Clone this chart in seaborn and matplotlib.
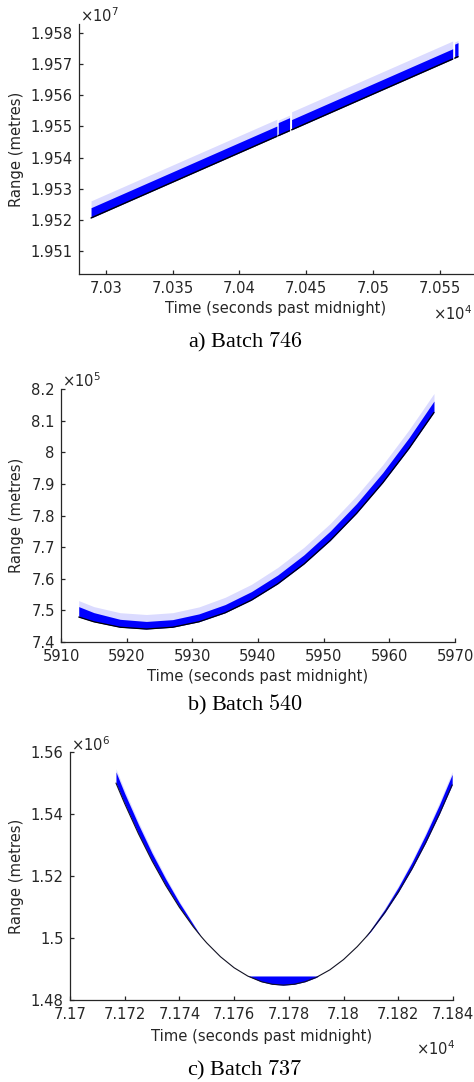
import numpy as np
import matplotlib
matplotlib.use("Agg")
import matplotlib.pyplot as plt
import seaborn as sns

# ---------------- data ----------------
# Panel a) Batch 746 : contiguous segments of the range track (gaps in between)
a_seg_t0 = [70289.0, 70429.0, 70439.0, 70561.0]          # s
a_seg_t1 = [70428.0, 70437.5, 70559.5, 70563.5]          # s
a_seg_r0 = [19520600, 19547020, 19548900, 19571930]      # m (lower edge)
a_seg_r1 = [19546830, 19548620, 19571640, 19572400]      # m (lower edge)
a_dense = [3300, 4200, 3300, 4500]                       # m, dense point band above the edge
a_fringe = [5500, 5000, 5800, 5200]                      # m, sparse outliers reach
a_xticks = [70300, 70350, 70400, 70450, 70500, 70550]
a_yticks = [19510000, 19520000, 19530000, 19540000, 19550000, 19560000, 19570000, 19580000]

# Panel b) Batch 540
b_time = [5912.7, 5915, 5919, 5923, 5927, 5931, 5935, 5939, 5943, 5947, 5951, 5955,
          5959, 5963, 5966.8]
b_range = [747890, 746390, 744670, 744100, 744670, 746390, 749240, 753240, 758380,
           764660, 772090, 780660, 790370, 801220, 812590]
b_dense = [3300, 2900, 2500, 2400, 2400, 2500, 2600, 2700, 2800, 2900, 3000, 3100,
           3200, 3400, 3600]
b_fringe = [5200, 4800, 4600, 4600, 4600, 4700, 4900, 5000, 5200, 5300, 5400, 5600,
            5700, 5900, 6000]
b_xticks = [5910, 5920, 5930, 5940, 5950, 5960, 5970]
b_yticks = [740000, 750000, 760000, 770000, 780000, 790000, 800000, 810000, 820000]

# Panel c) Batch 737
c_time = [71716.8, 71720, 71725, 71730, 71735, 71740, 71745, 71748, 71750, 71755,
          71760, 71765, 71770, 71774, 71778, 71782, 71786, 71790, 71795, 71800,
          71805, 71808, 71810, 71815, 71820, 71825, 71830, 71835, 71839.7]
c_range = [1549980, 1543330, 1533660, 1524860, 1516930, 1509880, 1503700, 1500410,
           1498390, 1493960, 1490390, 1487710, 1485890, 1485070, 1484800, 1485080,
           1485910, 1487280, 1489740, 1493060, 1497220, 1500120, 1502220, 1508080,
           1514770, 1522310, 1530700, 1539930, 1549380]
c_dense = [3600, 3300, 3000, 2500, 2100, 1500, 800, 0, 0, 0, 0, 0, 0, 0, 0, 0, 0, 0,
           0, 0, 0, 0, 600, 1100, 1600, 2100, 2600, 3000, 3400]
c_fringe = [4600, 4300, 3900, 3300, 2800, 2000, 1100, 0, 0, 0, 0, 0, 0, 0, 0, 0, 0,
            0, 0, 0, 0, 0, 800, 1500, 2100, 2700, 3300, 3800, 4300]
c_floor = 1487750                                         # m, flat cut of the point cloud
c_xticks = [71700, 71720, 71740, 71760, 71780, 71800, 71820, 71840]
c_yticks = [1480000, 1500000, 1520000, 1540000, 1560000]

captions = ["a) Batch $746$", "b) Batch $540$", "c) Batch $737$"]

# ---------------- style ----------------
sns.set_style("ticks")
plt.rcParams["font.family"] = ["DejaVu Sans"]
TXT = "#262626"
BLUE = "#0000ff"
FS = 10.6

W, H = 474, 1082
fig = plt.figure(figsize=(W / 100, H / 100), dpi=100)


def box(l, r, t, b):
    return [l / W, 1 - b / H, (r - l) / W, (b - t) / H]


def style_axis(ax, xticks, xlab, yticks, ylab, xlim, ylim):
    ax.set_xlim(*xlim)
    ax.set_ylim(*ylim)
    ax.set_xticks(xticks)
    ax.set_xticklabels(xlab)
    ax.set_yticks(yticks)
    ax.set_yticklabels(ylab)
    for s in ["top", "right"]:
        ax.spines[s].set_visible(False)
    for s in ["left", "bottom"]:
        ax.spines[s].set_color(TXT)
        ax.spines[s].set_linewidth(0.9)
    ax.tick_params(direction="in", length=3.2, width=0.9, colors=TXT, labelsize=FS)
    ax.tick_params(axis="x", pad=5.0)
    ax.tick_params(axis="y", pad=4.5)
    ax.set_xlabel("")
    ax.set_ylabel("")
    ax.grid(False)


def fig_text(x, y, s, **kw):
    fig.text(x / W, 1 - y / H, s, **kw)


def band(ax, t, r, dense, fringe, lc="black", lw=0.8):
    t = np.asarray(t, dtype=float)
    r = np.asarray(r, dtype=float)
    d = np.asarray(dense, dtype=float)
    f = np.asarray(fringe, dtype=float)
    ax.fill_between(t, r + d * 0.9, r + f, color=BLUE, alpha=0.14, lw=0)
    ax.fill_between(t, r, r + d, color=BLUE, lw=0)
    sns.lineplot(x=t, y=r, ax=ax, color=lc, lw=lw, sort=False, estimator=None)


# ---------------- panel a ----------------
axa = fig.add_axes(box(79, 473.4, 24, 274))
for t0, t1, r0, r1, d, f in zip(a_seg_t0, a_seg_t1, a_seg_r0, a_seg_r1, a_dense, a_fringe):
    band(axa, [t0, t1], [r0, r1], [d, d], [f, f], lw=1.0)
style_axis(axa, a_xticks, [f"{v / 1e4:g}" for v in a_xticks],
           a_yticks, [f"{v / 1e7:g}" for v in a_yticks],
           (70280, 70575), (19502610, 19582890))

# ---------------- panel b ----------------
axb = fig.add_axes(box(61, 455, 389, 642))
band(axb, b_time, b_range, b_dense, b_fringe, lw=0.9)
style_axis(axb, b_xticks, [f"{v:g}" for v in b_xticks],
           b_yticks, [f"{v / 1e5:g}" for v in b_yticks],
           (5910, 5970), (740000, 820000))

# ---------------- panel c ----------------
axc = fig.add_axes(box(70, 453, 752, 1000))
ct = np.array(c_time)
cr = np.array(c_range, dtype=float)
axc.fill_between(ct, cr, c_floor, where=cr < c_floor, interpolate=True, color=BLUE, lw=0)
band(axc, c_time, c_range, c_dense, c_fringe, lc="#111122", lw=0.8)
style_axis(axc, c_xticks, [f"{v / 1e4:g}" for v in c_xticks],
           c_yticks, [f"{v / 1e6:g}" for v in c_yticks],
           (71700, 71840), (1480000, 1560000))

# ---------------- texts ----------------
lab_kw = dict(color=TXT, fontsize=FS)
fig_text(17, 149, "Range (metres)", rotation=90, ha="center", va="center", **lab_kw)
fig_text(17, 515, "Range (metres)", rotation=90, ha="center", va="center", **lab_kw)
fig_text(17, 876, "Range (metres)", rotation=90, ha="center", va="center", **lab_kw)

fig_text(276, 309, "Time (seconds past midnight)", ha="center", va="center", **lab_kw)
fig_text(258, 677, "Time (seconds past midnight)", ha="center", va="center", **lab_kw)
fig_text(262, 1037, "Time (seconds past midnight)", ha="center", va="center", **lab_kw)

mult_kw = dict(color=TXT, fontsize=FS, math_fontfamily="dejavusans")
fig_text(80, 16, r"$\times10^{7}$", ha="left", va="center", **mult_kw)
fig_text(472, 314, r"$\times10^{4}$", ha="right", va="center", **mult_kw)
fig_text(62, 381, r"$\times10^{5}$", ha="left", va="center", **mult_kw)
fig_text(71, 745, r"$\times10^{6}$", ha="left", va="center", **mult_kw)
fig_text(416, 1049, r"$\times10^{4}$", ha="left", va="center", **mult_kw)

cap_kw = dict(color="black", fontsize=16, family="Liberation Serif", math_fontfamily="cm",
              ha="center", va="center")
fig_text(245, 342, captions[0], **cap_kw)
fig_text(245, 705, captions[1], **cap_kw)
fig_text(245, 1070, captions[2], **cap_kw)

fig.savefig("out.png", dpi=100, facecolor="white")
